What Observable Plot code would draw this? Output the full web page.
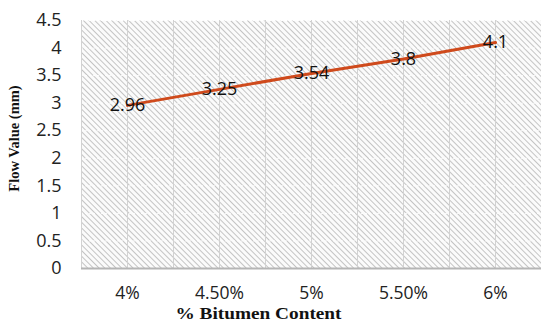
<!DOCTYPE html>
<html>
<head>
<meta charset="utf-8">
<script src="https://cdn.jsdelivr.net/npm/d3@7"></script>
<script src="https://cdn.jsdelivr.net/npm/@observablehq/plot@0.6"></script>
<style>
  html, body { margin: 0; padding: 0; background: #fff; }
  #chart svg { display: block; }
</style>
</head>
<body>
<div id="chart"></div>
<script>
const categories = ["4%", "4.50%", "5%", "5.50%", "6%"];
const flowValues = [2.96, 3.25, 3.54, 3.8, 4.1];
const flowLabels = ["2.96", "3.25", "3.54", "3.8", "4.1"];
const yTicks = [0, 0.5, 1, 1.5, 2, 2.5, 3, 3.5, 4, 4.5];
const xTitle = "% Bitumen Content";
const yTitle = "Flow Value (mm)";

const data = categories.map((c, i) => ({i, cat: c, v: flowValues[i], label: flowLabels[i]}));
const xIdx = categories.map((c, i) => i);
const xGrid = d3.range(-0.5, categories.length - 0.49, 0.5);
const serif = "'Liberation Serif', 'Times New Roman', serif";
const sans = "'Open Sans', sans-serif";

const chart = Plot.plot({
  width: 541,
  height: 320,
  marginLeft: 81,
  marginRight: 0,
  marginTop: 20,
  marginBottom: 52,
  style: {fontFamily: sans, color: "#222", background: "#fff"},
  x: {domain: [-0.5, categories.length - 0.5], label: null},
  y: {domain: [0, 4.5], label: null},
  marks: [
    Plot.frame({fill: "url(#hatch)", stroke: null}),
    Plot.ruleY(yTicks, {stroke: "#fff", strokeDasharray: "2,2", strokeOpacity: 0.9}),
    Plot.ruleX(xGrid, {stroke: "#d2d2d2", strokeWidth: 1}),
    Plot.ruleY([0], {stroke: "#b5b5b5", strokeWidth: 2}),
    Plot.axisX(xIdx, {tickFormat: i => categories[i], tickSize: 0, tickPadding: 18, fontSize: 17.5, fill: "#222", label: null}),
    Plot.axisY(yTicks, {tickFormat: d => String(d), tickSize: 0, tickPadding: 20, fontSize: 18, fill: "#222", label: null}),
    Plot.line(data, {x: "i", y: "v", stroke: "#cf4a1c", strokeWidth: 3}),
    Plot.text(data, {x: "i", y: "v", text: "label", fill: "#111", fontSize: 18}),
    Plot.text([xTitle], {frameAnchor: "bottom", dx: -53, dy: 50, textAnchor: "middle", fontFamily: serif, fontWeight: "bold", fontSize: 16, fill: "#111"}),
    Plot.text([yTitle], {frameAnchor: "left", dx: -67, dy: -6, rotate: -90, textAnchor: "middle", fontFamily: serif, fontWeight: "bold", fontSize: 14.5, fill: "#111"})
  ]
});

const svg = d3.select(chart);
const defs = svg.insert("defs", ":first-child");
const pat = defs.append("pattern")
  .attr("id", "hatch")
  .attr("patternUnits", "userSpaceOnUse")
  .attr("width", 4)
  .attr("height", 4)
  .attr("patternTransform", "rotate(-45)");
pat.append("rect").attr("width", 4).attr("height", 4).attr("fill", "#fbfbfb");
pat.append("line").attr("x1", 0).attr("y1", 0).attr("x2", 0).attr("y2", 4)
  .attr("stroke", "#adadad").attr("stroke-width", 1.4);

const byText = t => svg.selectAll("text").filter(function () { return this.textContent === t; });
byText(xTitle).attr("textLength", 166).attr("lengthAdjust", "spacingAndGlyphs");

document.getElementById("chart").appendChild(chart);
</script>
</body>
</html>
